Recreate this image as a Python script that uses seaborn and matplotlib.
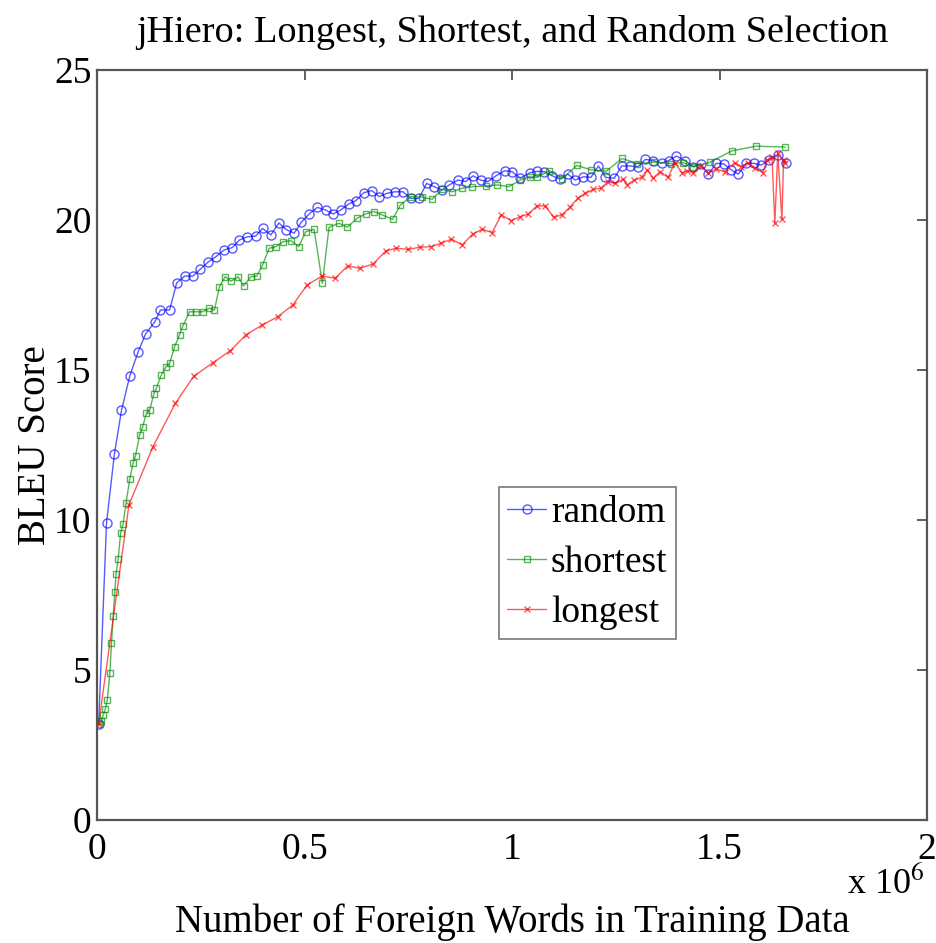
import matplotlib
matplotlib.use("Agg")
import matplotlib.pyplot as plt
import seaborn as sns
import pandas as pd

# ---- data (x in millions of foreign words, y = BLEU) ----
random_x = [0.004, 0.023, 0.042, 0.059, 0.079, 0.099, 0.117, 0.139, 0.153, 0.175,
            0.192, 0.211, 0.231, 0.249, 0.268, 0.287, 0.306, 0.326, 0.343, 0.362,
            0.382, 0.399, 0.419, 0.438, 0.456, 0.475, 0.492, 0.511, 0.531, 0.551,
            0.569, 0.587, 0.606, 0.623, 0.643, 0.662, 0.680, 0.699, 0.718, 0.737,
            0.756, 0.776, 0.794, 0.812, 0.831, 0.849, 0.869, 0.888, 0.906, 0.924,
            0.942, 0.961, 0.982, 1.000, 1.020, 1.042, 1.060, 1.078, 1.097, 1.116,
            1.134, 1.152, 1.172, 1.190, 1.208, 1.225, 1.246, 1.264, 1.284, 1.304,
            1.321, 1.340, 1.360, 1.377, 1.396, 1.417, 1.436, 1.454, 1.473, 1.492,
            1.510, 1.528, 1.545, 1.564, 1.582, 1.600, 1.620, 1.640, 1.660]
random_y = [3.2, 9.9, 12.2, 13.65, 14.8, 15.6, 16.2, 16.6, 17.0, 17.0,
            17.9, 18.13, 18.13, 18.36, 18.6, 18.78, 19.0, 19.08, 19.33, 19.44,
            19.46, 19.72, 19.5, 19.9, 19.68, 19.56, 19.92, 20.2, 20.42, 20.33,
            20.2, 20.33, 20.53, 20.64, 20.91, 20.98, 20.78, 20.89, 20.94, 20.94,
            20.72, 20.72, 21.22, 21.11, 21.0, 21.17, 21.33, 21.28, 21.47, 21.33,
            21.28, 21.47, 21.64, 21.61, 21.39, 21.57, 21.62, 21.61, 21.47, 21.36,
            21.53, 21.33, 21.44, 21.42, 21.8, 21.42, 21.39, 21.8, 21.8, 21.78,
            22.02, 21.98, 21.89, 21.98, 22.13, 21.98, 21.78, 21.87, 21.53, 21.89,
            21.87, 21.67, 21.53, 21.89, 21.89, 21.83, 22.0, 22.17, 21.91]

shortest_x = [0.004, 0.010, 0.015, 0.020, 0.025, 0.031, 0.035, 0.039, 0.043, 0.046,
              0.051, 0.057, 0.063, 0.070, 0.079, 0.087, 0.093, 0.103, 0.110, 0.119,
              0.127, 0.137, 0.143, 0.155, 0.166, 0.175, 0.187, 0.199, 0.207, 0.223,
              0.239, 0.255, 0.271, 0.283, 0.295, 0.309, 0.323, 0.340, 0.353, 0.371,
              0.385, 0.399, 0.415, 0.431, 0.449, 0.467, 0.486, 0.503, 0.523, 0.543,
              0.559, 0.583, 0.603, 0.627, 0.647, 0.667, 0.687, 0.712, 0.731, 0.756,
              0.783, 0.808, 0.831, 0.856, 0.880, 0.904, 0.936, 0.964, 0.992, 1.020,
              1.042, 1.060, 1.089, 1.121, 1.156, 1.190, 1.227, 1.265, 1.302, 1.342,
              1.384, 1.412, 1.437, 1.476, 1.529, 1.587, 1.658]
shortest_y = [3.2, 3.3, 3.5, 3.7, 4.0, 4.9, 5.9, 6.8, 7.6, 8.2,
              8.7, 9.57, 9.87, 10.57, 11.36, 11.9, 12.15, 12.85, 13.1, 13.56,
              13.67, 14.2, 14.39, 14.83, 15.1, 15.22, 15.78, 16.17, 16.47, 16.94,
              16.94, 16.94, 17.06, 17.0, 17.78, 18.11, 17.96, 18.11, 17.8, 18.11,
              18.13, 18.5, 19.06, 19.11, 19.28, 19.31, 19.11, 19.61, 19.69, 17.89,
              19.76, 19.89, 19.76, 20.06, 20.2, 20.28, 20.17, 20.02, 20.5, 20.78,
              20.76, 20.69, 21.02, 20.94, 21.06, 21.11, 21.13, 21.17, 21.11, 21.33,
              21.44, 21.42, 21.64, 21.38, 21.82, 21.67, 21.63, 22.05, 21.88, 21.93,
              21.88, 21.91, 21.77, 21.92, 22.3, 22.46, 22.43]

longest_x = [0.004, 0.077, 0.135, 0.189, 0.233, 0.279, 0.321, 0.359, 0.398, 0.435,
             0.472, 0.506, 0.542, 0.574, 0.604, 0.633, 0.665, 0.696, 0.721, 0.750,
             0.777, 0.804, 0.828, 0.854, 0.880, 0.905, 0.928, 0.952, 0.974, 0.998,
             1.020, 1.039, 1.060, 1.080, 1.100, 1.120, 1.140, 1.158, 1.176, 1.196,
             1.214, 1.232, 1.249, 1.268, 1.278, 1.294, 1.312, 1.326, 1.340, 1.356,
             1.376, 1.392, 1.410, 1.422, 1.436, 1.454, 1.472, 1.492, 1.512, 1.536,
             1.552, 1.568, 1.585, 1.604, 1.614, 1.626, 1.633, 1.640, 1.650, 1.654,
             1.657]
longest_y = [3.2, 10.5, 12.45, 13.89, 14.79, 15.24, 15.64, 16.17, 16.5, 16.77,
             17.17, 17.83, 18.13, 18.06, 18.47, 18.39, 18.53, 18.97, 19.06, 19.02,
             19.09, 19.11, 19.22, 19.36, 19.17, 19.53, 19.69, 19.58, 20.17, 19.98,
             20.11, 20.2, 20.47, 20.47, 20.09, 20.17, 20.44, 20.72, 20.89, 21.02,
             21.06, 21.28, 21.22, 21.36, 21.17, 21.33, 21.42, 21.67, 21.39, 21.61,
             21.42, 21.91, 21.56, 21.64, 21.58, 21.8, 21.58, 21.69, 21.61, 21.91,
             21.78, 21.91, 21.72, 21.58, 22.0, 22.11, 19.89, 22.24, 20.02, 22.0,
             21.89]

x_ticks = [0, 0.5, 1, 1.5, 2]
x_tick_labels = ["0", "0.5", "1", "1.5", "2"]
y_ticks = [0, 5, 10, 15, 20, 25]
y_tick_labels = ["0", "5", "10", "15", "20", "25"]

title = "jHiero: Longest, Shortest, and Random Selection"
xlabel = "Number of Foreign Words in Training Data"
ylabel = "BLEU Score"

# ---- styling ----
sns.set_theme(style="white")
plt.rcParams['font.family'] = ['Liberation Serif', 'DejaVu Serif']
plt.rcParams['mathtext.fontset'] = 'stix'
plt.rcParams['text.color'] = 'black'
plt.rcParams['axes.labelcolor'] = 'black'
plt.rcParams['xtick.color'] = 'black'
plt.rcParams['ytick.color'] = 'black'

fig = plt.figure(figsize=(9.36, 9.43), dpi=100)
ax = fig.add_axes([0.1036, 0.1304, 0.8870, 0.7954])

series = [
    ("random", random_x, random_y, dict(color=(0.0, 0.0, 1.0), marker='o', markersize=6.5)),
    ("shortest", shortest_x, shortest_y, dict(color=(0.0, 0.55, 0.0), marker='s', markersize=5)),
    ("longest", longest_x, longest_y, dict(color=(1.0, 0.0, 0.0), marker='x', markersize=4)),
]
for name, xs, ys, st in series:
    df = pd.DataFrame({"x": xs, "y": ys})
    sns.lineplot(data=df, x="x", y="y", ax=ax, sort=False, estimator=None,
                 color=st["color"], marker=st["marker"], markersize=st["markersize"],
                 markerfacecolor='none', markeredgecolor=st["color"],
                 markeredgewidth=1.0, linewidth=1.0, alpha=0.65, label=name)

ax.set_xlim(0, 2)
ax.set_ylim(0, 25)
ax.set_xticks(x_ticks)
ax.set_xticklabels(x_tick_labels)
ax.set_yticks(y_ticks)
ax.set_yticklabels(y_tick_labels)
ax.tick_params(axis='both', direction='in', length=7, width=1.2, color='#444444',
               top=True, right=True, labelsize=27)
ax.tick_params(axis='x', pad=9)
ax.tick_params(axis='y', pad=4)
for sp in ax.spines.values():
    sp.set_color('#555555')
    sp.set_linewidth(1.6)

ax.set_title(title, fontsize=27.5, pad=20)
ax.set_xlabel(xlabel, fontsize=28, labelpad=26)
ax.set_ylabel(ylabel, fontsize=28, labelpad=0)

fig.text(0.905, 0.063, r"x 10$^6$", fontsize=26, ha='left', va='center')

leg = ax.legend(loc='upper left', bbox_to_anchor=(0.484, 0.444), borderaxespad=0,
                fontsize=27, frameon=True, fancybox=False, handlelength=1.05,
                handletextpad=0.12, borderpad=0.22, labelspacing=0.42)
leg.get_frame().set_edgecolor('#555555')
leg.get_frame().set_linewidth(1.2)
for h in leg.legend_handles:
    h.set_alpha(0.65)

fig.savefig("out.png", dpi=100)
